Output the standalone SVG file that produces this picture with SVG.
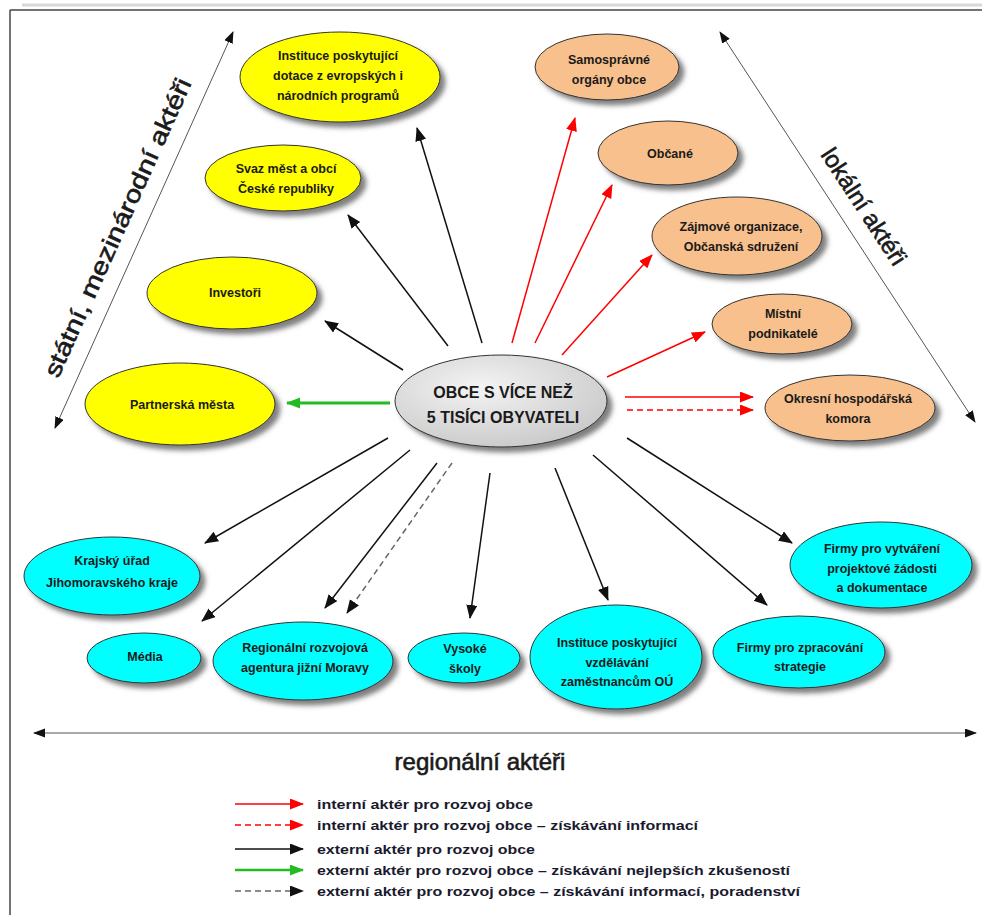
<svg xmlns="http://www.w3.org/2000/svg" width="982" height="915" viewBox="0 0 982 915">
<style>
.n{stroke:#333;stroke-width:1;filter:url(#sh)}
.y{fill:#ffff00}
.o{fill:#f8c08c}
.c{fill:#00ffff}
.t{font-family:"Liberation Sans",Arial,sans-serif;font-weight:bold;font-size:12.5px;fill:#1a1a1a;text-anchor:middle}
.ax{stroke:#555;stroke-width:1;fill:none}
.big{font-family:"Liberation Sans",Arial,sans-serif;font-size:24px;fill:#1a1a1a;stroke:#1a1a1a;stroke-width:0.6;text-anchor:middle}
.k{stroke:#111;stroke-width:1.5;fill:none;marker-end:url(#ak)}
.kd{stroke:#666;stroke-width:1.5;fill:none;stroke-dasharray:6,4;marker-end:url(#ak)}
.r{stroke:#ff0000;stroke-width:1.5;fill:none;marker-end:url(#ar)}
.rd{stroke:#ff0000;stroke-width:1.5;fill:none;stroke-dasharray:6,4;marker-end:url(#ar)}
.g{stroke:#22bb22;stroke-width:3;fill:none;marker-end:url(#ag)}
.lg{font-family:"Liberation Sans",Arial,sans-serif;font-weight:bold;font-size:13px;fill:#1a1a2e}
</style>
<defs>
<filter id="sh" x="-20%" y="-20%" width="150%" height="160%">
<feGaussianBlur in="SourceAlpha" stdDeviation="2.5"/>
<feOffset dx="5" dy="5" result="b"/>
<feFlood flood-color="#555" flood-opacity="0.75"/>
<feComposite in2="b" operator="in"/>
<feMerge><feMergeNode/><feMergeNode in="SourceGraphic"/></feMerge>
</filter>
<radialGradient id="cg" cx="40%" cy="35%" r="70%">
<stop offset="0" stop-color="#f4f4f4"/>
<stop offset="1" stop-color="#c9c9c9"/>
</radialGradient>
<marker id="ak" markerUnits="userSpaceOnUse" markerWidth="15" markerHeight="12" refX="13" refY="5.5" orient="auto"><path d="M0,0 L14,5.5 L0,11 z" fill="#111"/></marker>
<marker id="ar" markerUnits="userSpaceOnUse" markerWidth="15" markerHeight="12" refX="13" refY="5.5" orient="auto"><path d="M0,0 L14,5.5 L0,11 z" fill="#ff0000"/></marker>
<marker id="ag" markerUnits="userSpaceOnUse" markerWidth="15" markerHeight="12" refX="13" refY="5.5" orient="auto"><path d="M0,0 L14,5.5 L0,11 z" fill="#22bb22"/></marker>
<marker id="ax" markerUnits="userSpaceOnUse" markerWidth="12" markerHeight="10" refX="11" refY="4.5" orient="auto-start-reverse"><path d="M0,0 L12,4.5 L0,9 z" fill="#111"/></marker>
</defs>
<rect width="982" height="915" fill="#fff"/>
<g id="frame">
<line x1="22" y1="5" x2="982" y2="5" stroke="#d8d8d8" stroke-width="3"/>
<line x1="10" y1="10" x2="982" y2="10" stroke="#444" stroke-width="1.5"/>
<line x1="10" y1="10" x2="10" y2="915" stroke="#444" stroke-width="1.5"/>
</g>
<g id="axes">
<line class="ax" x1="55" y1="428" x2="233" y2="32" marker-start="url(#ax)" marker-end="url(#ax)"/>
<line class="ax" x1="720" y1="32" x2="975" y2="422" marker-start="url(#ax)" marker-end="url(#ax)"/>
<line class="ax" x1="34" y1="733" x2="976" y2="733" marker-start="url(#ax)" marker-end="url(#ax)"/>
<text class="big" transform="translate(125,231) rotate(-65.7)" textLength="325" lengthAdjust="spacingAndGlyphs">státní, mezinárodní aktéři</text>
<text class="big" transform="translate(857,211) rotate(56.8)">lokální aktéři</text>
<text class="big" x="480" y="770">regionální aktéři</text>
</g>
<g id="connectors">
<line class="k" x1="482" y1="343" x2="417" y2="128"/>
<line class="k" x1="448" y1="346" x2="348" y2="215"/>
<line class="k" x1="403" y1="370" x2="325" y2="321"/>
<line class="g" x1="390" y1="403" x2="287" y2="403"/>
<line class="r" x1="512" y1="343" x2="575" y2="118"/>
<line class="r" x1="535" y1="343" x2="612" y2="185"/>
<line class="r" x1="562" y1="355" x2="652" y2="255"/>
<line class="r" x1="607" y1="377" x2="705" y2="332"/>
<line class="r" x1="625" y1="397" x2="753" y2="397"/>
<line class="rd" x1="627" y1="410" x2="753" y2="410"/>
<line class="k" x1="388" y1="438" x2="205" y2="543"/>
<line class="k" x1="410" y1="450" x2="202" y2="621"/>
<line class="k" x1="437" y1="463" x2="325" y2="608"/>
<line class="kd" x1="452" y1="463" x2="347" y2="613"/>
<line class="k" x1="490" y1="473" x2="470" y2="618"/>
<line class="k" x1="555" y1="468" x2="608" y2="600"/>
<line class="k" x1="593" y1="455" x2="767" y2="605"/>
<line class="k" x1="627" y1="438" x2="792" y2="543"/>
</g>
<g id="center">
<ellipse class="n" cx="501" cy="401" rx="106" ry="46" fill="url(#cg)"/>
<text class="t" style="font-size:16px" x="503" y="397.5">OBCE S VÍCE NEŽ</text>
<text class="t" style="font-size:16px" x="503" y="422.5">5 TISÍCI OBYVATELI</text>
</g>
<g id="y1"><ellipse class="n y" cx="340" cy="77" rx="100" ry="45"/>
<text class="t" x="338" y="59.5">Instituce poskytující</text><text class="t" x="338" y="79.5">dotace z evropských i</text><text class="t" x="338" y="99.5">národních programů</text></g>
<g id="y2"><ellipse class="n y" cx="283" cy="178" rx="78" ry="33"/>
<text class="t" x="286" y="172.5">Svaz měst a obcí</text><text class="t" x="286" y="192.5">České republiky</text></g>
<g id="y3"><ellipse class="n y" cx="232" cy="293" rx="85" ry="36"/>
<text class="t" x="235" y="297">Investoři</text></g>
<g id="y4"><ellipse class="n y" cx="180" cy="404" rx="95" ry="41"/>
<text class="t" x="182" y="408.5">Partnerská města</text></g>
<g id="o1"><ellipse class="n o" cx="607" cy="67" rx="72" ry="33"/>
<text class="t" x="609" y="63.5">Samosprávné</text><text class="t" x="609" y="83.5">orgány obce</text></g>
<g id="o2"><ellipse class="n o" cx="668" cy="153" rx="70" ry="32"/>
<text class="t" x="670" y="157.5">Občané</text></g>
<g id="o3"><ellipse class="n o" cx="737" cy="236" rx="85" ry="39"/>
<text class="t" x="741" y="230.5">Zájmové organizace,</text><text class="t" x="741" y="250.5">Občanská sdružení</text></g>
<g id="o4"><ellipse class="n o" cx="782" cy="324" rx="70" ry="30"/>
<text class="t" x="783" y="317.5">Místní</text><text class="t" x="783" y="337.5">podnikatelé</text></g>
<g id="o5"><ellipse class="n o" cx="850" cy="408" rx="85" ry="33"/>
<text class="t" x="848" y="402.5">Okresní hospodářská</text><text class="t" x="848" y="422.5">komora</text></g>
<g id="c1"><ellipse class="n c" cx="112" cy="576" rx="88" ry="39"/>
<text class="t" x="112" y="564.5">Krajský úřad</text><text class="t" x="112" y="586.5">Jihomoravského kraje</text></g>
<g id="c2"><ellipse class="n c" cx="144" cy="658" rx="57" ry="25"/>
<text class="t" x="145" y="660.5">Média</text></g>
<g id="c3"><ellipse class="n c" cx="303" cy="661" rx="90" ry="39"/>
<text class="t" x="305" y="651.5">Regionální rozvojová</text><text class="t" x="305" y="671.5">agentura jižní Moravy</text></g>
<g id="c4"><ellipse class="n c" cx="464" cy="658" rx="56" ry="25"/>
<text class="t" x="465" y="652.5">Vysoké</text><text class="t" x="465" y="672.5">školy</text></g>
<g id="c5"><ellipse class="n c" cx="616" cy="657" rx="86" ry="52"/>
<text class="t" x="617" y="646.5">Instituce poskytující</text><text class="t" x="617" y="666.5">vzdělávání</text><text class="t" x="617" y="685.5">zaměstnancům OÚ</text></g>
<g id="c6"><ellipse class="n c" cx="799" cy="652" rx="86" ry="36"/>
<text class="t" x="800" y="651.5">Firmy pro zpracování</text><text class="t" x="800" y="670.5">strategie</text></g>
<g id="c7"><ellipse class="n c" cx="881" cy="565" rx="91" ry="43"/>
<text class="t" x="882" y="552.5">Firmy pro vytváření</text><text class="t" x="882" y="572.5">projektové žádosti</text><text class="t" x="882" y="591.5">a dokumentace</text></g>
<g id="legend">
<line class="r" x1="235" y1="804" x2="303" y2="804"/>
<line class="rd" x1="235" y1="825" x2="303" y2="825"/>
<line class="k" x1="235" y1="849" x2="303" y2="849"/>
<line class="g" style="stroke-width:2.5" x1="235" y1="870" x2="303" y2="870"/>
<line class="kd" x1="235" y1="891" x2="303" y2="891"/>
<text class="lg" x="317" y="809" textLength="216" lengthAdjust="spacingAndGlyphs">interní aktér pro rozvoj obce</text>
<text class="lg" x="317" y="830" textLength="381" lengthAdjust="spacingAndGlyphs">interní aktér pro rozvoj obce – získávání informací</text>
<text class="lg" x="317" y="854" textLength="218" lengthAdjust="spacingAndGlyphs">externí aktér pro rozvoj obce</text>
<text class="lg" x="317" y="875" textLength="473" lengthAdjust="spacingAndGlyphs">externí aktér pro rozvoj obce – získávání nejlepších zkušeností</text>
<text class="lg" x="317" y="896" textLength="483" lengthAdjust="spacingAndGlyphs">externí aktér pro rozvoj obce – získávání informací, poradenství</text>
</g>
</svg>
